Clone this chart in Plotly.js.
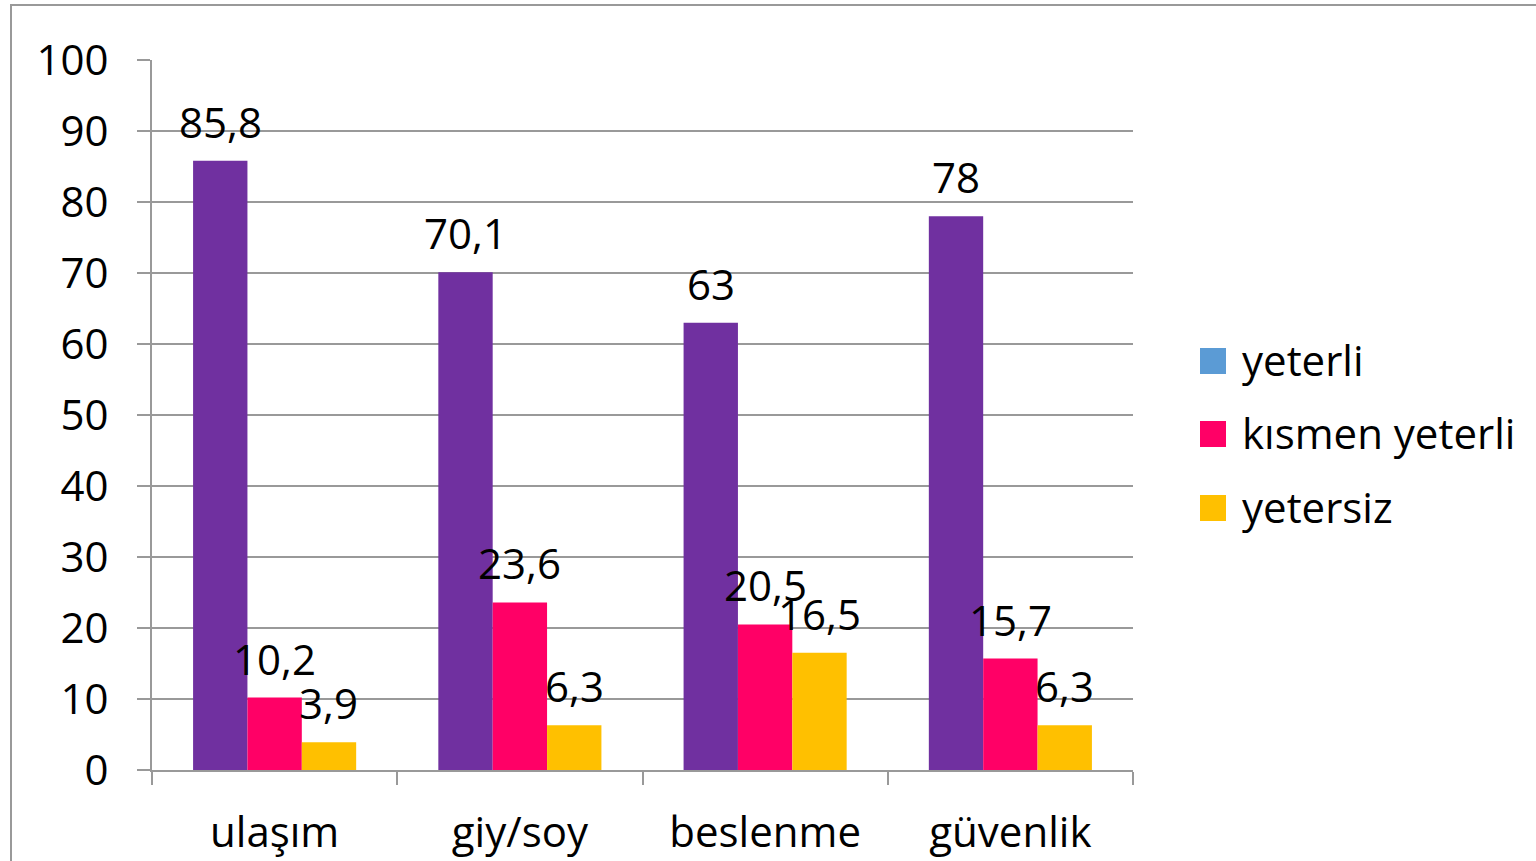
<!DOCTYPE html>
<html>
<head>
<meta charset="utf-8">
<script src="https://cdn.plot.ly/plotly-3.0.1.min.js"></script>
<style>html,body{margin:0;padding:0;background:#fff;}</style>
</head>
<body>
<div id="chart" style="width:1536px;height:861px;"></div>
<script>
const categories = ["ulaşım", "giy/soy", "beslenme", "güvenlik"];
const seriesNames = ["yeterli", "kısmen yeterli", "yetersiz"];
const yeterli = [85.8, 70.1, 63, 78];
const kismenYeterli = [10.2, 23.6, 20.5, 15.7];
const yetersiz = [3.9, 6.3, 16.5, 6.3];
const barColors = ["#7030A0", "#FF0066", "#FFC000"];
const legendColors = ["#5B9BD5", "#FF0066", "#FFC000"];
const yTicks = [0, 10, 20, 30, 40, 50, 60, 70, 80, 90, 100];

const FONT = "Open Sans, Noto Sans, sans-serif";
const W = 1536, H = 861;
const L = 152, R = 1133, T = 60, B = 770;
const BARGAP = 0.335;
const px = x => (x - L) / (R - L);
const py = y => (B - y) / (B - T);
const fmt = v => String(v).replace(".", ",");

const seriesVals = [yeterli, kismenYeterli, yetersiz];
const traces = seriesVals.map((vals, i) => ({
  type: "bar",
  name: seriesNames[i],
  x: categories,
  y: vals,
  marker: {color: barColors[i], line: {width: 0}},
  showlegend: false,
  hoverinfo: "skip"
}));

const shapes = [{
  type: "rect", xref: "paper", yref: "paper",
  x0: px(11), x1: px(1600), y0: py(900), y1: py(5),
  line: {color: "#999999", width: 2}, fillcolor: "rgba(0,0,0,0)", layer: "below"
}];
const annotations = [];

// data labels above each bar (offset within group derived from bar width)
const catW = (R - L) / categories.length;
const barW = catW * (1 - BARGAP) / seriesVals.length;
seriesVals.forEach((vals, i) => {
  vals.forEach((v, j) => {
    annotations.push({
      xref: "x", yref: "y", x: categories[j], y: v,
      xshift: (i - (seriesVals.length - 1) / 2) * barW,
      yshift: 9,
      xanchor: "center", yanchor: "bottom", showarrow: false,
      text: fmt(v), font: {family: FONT, size: 42, color: "#000"}
    });
  });
});

const legendY = [361, 434, 508];
seriesNames.forEach((n, i) => {
  shapes.push({
    type: "rect", xref: "paper", yref: "paper",
    x0: px(1200), x1: px(1226), y0: py(legendY[i] + 13), y1: py(legendY[i] - 13),
    line: {width: 0}, fillcolor: legendColors[i]
  });
  annotations.push({
    xref: "paper", yref: "paper", x: px(1240), y: py(legendY[i] - 2),
    xanchor: "left", yanchor: "middle", showarrow: false,
    text: n, font: {family: FONT, size: 42, color: "#000"}
  });
});

const layout = {
  width: W, height: H, autosize: false,
  margin: {l: L, r: W - R, t: T, b: H - B, pad: 0},
  paper_bgcolor: "#fff", plot_bgcolor: "#fff",
  barmode: "group", bargap: BARGAP, bargroupgap: 0,
  showlegend: false,
  font: {family: FONT, size: 42, color: "#000"},
  xaxis: {
    type: "category", tickson: "boundaries", ticks: "outside", ticklen: 13,
    tickwidth: 2, tickcolor: "#999999",
    showline: true, linecolor: "#999999", linewidth: 2,
    showgrid: false, zeroline: false,
    tickfont: {family: FONT, size: 42, color: "#000"},
    ticklabelstandoff: 25
  },
  yaxis: {
    range: [0, 100], tickvals: yTicks, ticktext: yTicks.map(String),
    ticks: "outside", ticklen: 13, tickwidth: 2, tickcolor: "#999999",
    showline: true, linecolor: "#999999", linewidth: 2,
    showgrid: true, gridcolor: "#999999", gridwidth: 2, zeroline: false,
    tickfont: {family: FONT, size: 42, color: "#000"},
    ticklabelstandoff: 20
  },
  shapes: shapes,
  annotations: annotations
};

Plotly.newPlot("chart", traces, layout, {staticPlot: true, displayModeBar: false});
</script>
</body>
</html>
